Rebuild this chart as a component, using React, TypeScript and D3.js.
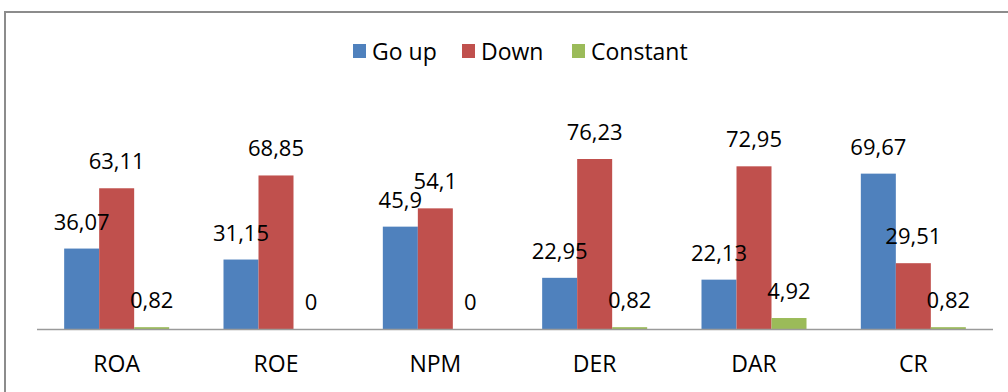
import { useEffect, useRef } from "react";
import * as d3 from "d3";

const categories = ["ROA", "ROE", "NPM", "DER", "DAR", "CR"];
const seriesNames = ["Go up", "Down", "Constant"];
const goUp = [36.07, 31.15, 45.9, 22.95, 22.13, 69.67];
const down = [63.11, 68.85, 54.1, 76.23, 72.95, 29.51];
const constant = [0.82, 0, 0, 0.82, 4.92, 0.82];
const colors = ["#4F81BD", "#C0504D", "#9BBB59"];

const W = 1008;
const H = 392;
const FONT = "'Open Sans', 'Liberation Sans', sans-serif";

export default function App() {
  const svgRef = useRef<SVGSVGElement>(null);

  useEffect(() => {
    const svg = d3.select(svgRef.current);
    svg.selectAll("*").remove();

    const values = [goUp, down, constant];
    const rows = categories.map((c, i) => ({
      cat: c,
      vals: seriesNames.map((s, j) => ({ key: s, idx: j, v: values[j][i] })),
    }));

    // outer frame (cut off at right/bottom as in the original)
    svg
      .append("rect")
      .attr("x", 5)
      .attr("y", 12)
      .attr("width", W + 20)
      .attr("height", H + 20)
      .attr("fill", "none")
      .attr("stroke", "#8c8c8c")
      .attr("stroke-width", 2);

    const baseY = 329;
    const x0 = d3.scaleBand<string>().domain(categories).range([37, 993]).paddingInner(0).paddingOuter(0);
    const x1 = d3
      .scaleBand<string>()
      .domain(seriesNames)
      .range([0, x0.bandwidth()])
      .paddingInner(0)
      .paddingOuter(0.776);
    const y = d3.scaleLinear().domain([0, 80]).range([baseY, baseY - 80 * 2.23]);

    const g = svg.append("g");

    const groups = g
      .selectAll("g.grp")
      .data(rows)
      .enter()
      .append("g")
      .attr("class", "grp")
      .attr("transform", (d) => `translate(${x0(d.cat)},0)`);

    groups
      .selectAll("rect")
      .data((d) => d.vals)
      .enter()
      .append("rect")
      .attr("x", (d) => x1(d.key)!)
      .attr("y", (d) => y(d.v))
      .attr("width", x1.bandwidth())
      .attr("height", (d) => baseY - y(d.v))
      .attr("fill", (d) => colors[d.idx]);

    // baseline
    g.append("line")
      .attr("x1", 37)
      .attr("x2", 993)
      .attr("y1", baseY + 0.5)
      .attr("y2", baseY + 0.5)
      .attr("stroke", "#9a9a9a")
      .attr("stroke-width", 1.5);

    // value labels
    groups
      .selectAll("text.val")
      .data((d) => d.vals)
      .enter()
      .append("text")
      .attr("class", "val")
      .attr("x", (d) => x1(d.key)! + x1.bandwidth() / 2)
      .attr("y", (d) => y(d.v) - 19)
      .attr("text-anchor", "middle")
      .attr("font-family", FONT)
      .attr("font-size", 22)
      .attr("fill", "#000")
      .text((d) => String(d.v).replace(".", ","));

    // category labels
    g.selectAll("text.cat")
      .data(categories)
      .enter()
      .append("text")
      .attr("class", "cat")
      .attr("x", (d) => x0(d)! + x0.bandwidth() / 2)
      .attr("y", 372)
      .attr("text-anchor", "middle")
      .attr("font-family", FONT)
      .attr("font-size", 23)
      .attr("fill", "#000")
      .text((d) => d);

    // legend
    const legendX = [353, 462, 572];
    const leg = svg
      .selectAll("g.leg")
      .data(seriesNames)
      .enter()
      .append("g")
      .attr("class", "leg")
      .attr("transform", (_, i) => `translate(${legendX[i]},0)`);
    leg
      .append("rect")
      .attr("x", 0)
      .attr("y", 44)
      .attr("width", 13)
      .attr("height", 14)
      .attr("fill", (_, i) => colors[i]);
    leg
      .append("text")
      .attr("x", 19)
      .attr("y", 60)
      .attr("font-family", FONT)
      .attr("font-size", 23)
      .attr("fill", "#000")
      .text((d) => d);
  }, []);

  return (
    <svg
      ref={svgRef}
      width={W}
      height={H}
      style={{ position: "absolute", left: 0, top: 0, background: "#fff" }}
    />
  );
}
